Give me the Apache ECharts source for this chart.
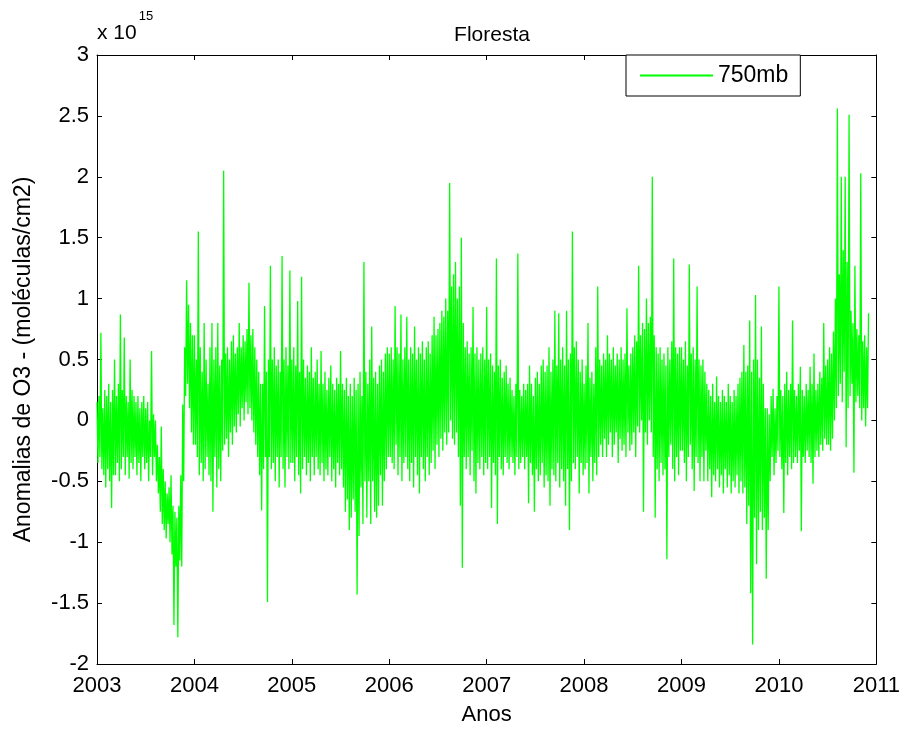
<!DOCTYPE html>
<html>
<head>
<meta charset="utf-8">
<title>Floresta</title>
<script src="https://cdn.jsdelivr.net/npm/echarts@6/dist/echarts.min.js"></script>
<style>
  html, body { margin: 0; padding: 0; background: #fff; }
  #chart { width: 903px; height: 731px; }
</style>
</head>
<body>
<div id="chart"></div>
<script>
// dados (unidade: 10^15 moléculas/cm2), uma amostra a cada 0.01 ano
const titulo = "Floresta";
const nomeSerie = "750mb";
const anos = [2003, 2004, 2005, 2006, 2007, 2008, 2009, 2010];
const passo = 0.01;
const xTicks = [2003, 2004, 2005, 2006, 2007, 2008, 2009, 2010, 2011];
const yTicks = [-2, -1.5, -1, -0.5, 0, 0.5, 1, 1.5, 2, 2.5, 3];

const o3_2003 = [0.15, -0.35, 0.2, -0.3, 0.72, -0.4, 0.1, -0.45, 0.25, -0.55,
  0.2, -0.4, 0.3, -0.5, 0.15, -0.72, 0.25, -0.45, 0.5, -0.45,
  0.2, -0.35, 0.3, -0.5, 0.87, -0.4, 0.25, -0.3, 0.68, -0.45,
  0.2, -0.3, 0.15, -0.48, 0.5, -0.35, 0.25, -0.4, 0.2, -0.3,
  0.15, -0.45, 0.2, -0.35, 0.1, -0.5, 0.15, -0.3, 0.2, -0.4,
  0.1, -0.35, 0.15, -0.5, 0.0, -0.3, 0.57, -0.45, 0.05, -0.3,
  0.0, -0.5, -0.2, -0.6, -0.3, -0.75, -0.05, -0.85, -0.4, -0.9,
  -0.5, -0.97, -0.6, -0.85, -0.55, -1.0, -0.45, -1.1, -0.7, -1.68,
  -0.75, -1.2, -0.8, -1.78, -0.7, -1.15, -0.45, -1.2, 0.13, -0.5,
  0.6, 0.2, 1.15, 0.3, 0.95, 0.1, 0.8, -0.1, 0.7, -0.2];
const o3_2004 = [0.7, -0.2, 0.5, -0.3, 1.55, -0.45, 0.6, -0.35, 0.4, -0.5,
  0.8, -0.4, 0.5, -0.3, 0.3, -0.45, 0.6, -0.5, 0.8, -0.75,
  0.5, -0.3, 0.6, -0.55, 0.8, -0.4, 0.45, -0.5, 0.5, -0.25,
  2.05, -0.2, 0.55, -0.15, 0.6, -0.3, 0.5, -0.1, 0.65, -0.2,
  0.7, -0.05, 0.55, -0.1, 0.6, 0.05, 0.8, -0.05, 0.6, 0.1,
  0.7, 0.0, 0.65, 0.15, 0.75, 0.05, 1.13, 0.1, 0.7, 0.0,
  0.75, -0.1, 0.6, -0.2, 0.5, -0.3, 0.4, -0.45, 0.3, -0.74,
  0.3, -0.4, 0.94, -0.3, 0.4, -1.49, 0.5, -0.3, 1.27, -0.4,
  0.5, -0.35, 0.6, -0.5, 0.45, -0.3, 0.5, -0.55, 0.4, -0.3,
  1.35, -0.4, 0.5, -0.55, 0.6, -0.3, 0.45, -0.4, 1.23, -0.35];
const o3_2005 = [0.5, -0.35, 0.6, -0.5, 0.45, -0.3, 0.98, -0.45, 0.4, -0.6,
  1.18, -0.4, 0.5, -0.3, 0.35, -0.45, 0.45, -0.35, 0.4, -0.5,
  0.6, -0.3, 0.35, -0.45, 0.4, -0.3, 0.5, -0.4, 0.3, -0.45,
  0.57, -0.35, 0.3, -0.5, 0.4, -0.4, 0.25, -0.45, 0.35, -0.3,
  0.45, -0.5, 0.3, -0.4, 0.25, -0.55, 0.35, -0.35, 0.3, -0.45,
  0.57, -0.4, 0.3, -0.55, 0.25, -0.75, 0.35, -0.65, 0.2, -0.9,
  0.3, -0.8, 0.2, -0.65, 0.35, -0.75, 0.25, -1.43, 0.3, -0.95,
  0.4, -0.55, 0.2, -0.85, 1.3, -0.5, 0.4, -0.8, 0.3, -0.5,
  0.5, -0.85, 0.77, -0.5, 0.35, -0.75, 0.4, -0.8, 0.3, -0.7,
  0.45, -0.45, 0.5, -0.7, 0.4, -0.5, 0.55, -0.4, 0.6, -0.3];
const o3_2006 = [0.55, -0.3, 0.6, -0.35, 0.5, -0.4, 0.94, -0.2, 0.6, -0.45,
  0.55, -0.3, 0.87, -0.5, 0.5, -0.35, 0.6, -0.3, 0.85, -0.4,
  0.5, -0.5, 0.6, -0.35, 0.55, -0.55, 0.77, -0.3, 0.5, -0.45,
  0.6, -0.6, 0.55, -0.3, 0.65, -0.4, 0.5, -0.5, 0.6, -0.3,
  0.65, -0.45, 0.55, -0.35, 0.7, -0.25, 0.85, -0.4, 0.7, -0.2,
  0.75, -0.3, 0.8, -0.15, 0.9, -0.25, 0.85, -0.1, 1.0, -0.2,
  0.9, -0.1, 1.95, 0.0, 1.1, -0.15, 1.2, -0.2, 1.3, -0.1,
  1.0, -0.3, 1.1, -0.7, 1.5, -1.21, 0.8, -0.3, 0.6, -0.4,
  0.65, -0.3, 0.55, -0.45, 0.6, -0.25, 0.93, -0.5, 0.55, -0.6,
  0.6, -0.35, 0.5, -0.4, 0.55, -0.3, 0.6, -0.45, 0.5, -0.35];
const o3_2007 = [0.93, -0.4, 0.5, -0.3, 0.55, -0.72, 0.45, -0.35, 0.4, -0.45,
  1.33, -0.85, 0.45, -0.3, 0.5, -0.4, 0.35, -0.45, 0.4, -0.3,
  0.45, -0.35, 0.3, -0.4, 0.35, -0.3, 0.25, -0.35, 0.2, -0.45,
  0.3, -0.3, 1.37, -0.4, 0.25, -0.35, 0.2, -0.3, 0.3, -0.4,
  0.25, -0.3, 0.3, -0.68, 0.45, -0.35, 0.3, -0.45, 0.2, -0.75,
  0.35, -0.4, 0.4, -0.5, 0.3, -0.45, 0.45, -0.35, 0.5, -0.55,
  0.4, -0.45, 0.45, -0.5, 0.6, -0.7, 0.4, -0.4, 0.5, -0.45,
  0.9, -0.5, 0.45, -0.35, 0.88, -0.55, 0.5, -0.4, 0.6, -0.5,
  0.45, -0.7, 0.9, -0.4, 0.5, -0.9, 0.55, -0.5, 1.55, -0.35,
  0.6, -0.4, 0.65, -0.3, 0.5, -0.6, 0.4, -0.35, 0.5, -0.45];
const o3_2008 = [0.3, -0.4, 0.45, -0.35, 0.8, -0.6, 0.35, -0.3, 0.4, -0.5,
  0.3, -0.35, 0.6, -0.45, 1.1, -0.3, 0.5, -0.2, 0.45, -0.3,
  0.55, -0.15, 0.5, -0.3, 0.7, -0.2, 0.55, -0.1, 0.5, -0.3,
  0.6, -0.2, 0.45, -0.1, 0.55, -0.35, 0.5, -0.15, 0.6, -0.25,
  0.5, -0.2, 0.55, -0.3, 0.92, -0.1, 0.45, -0.25, 0.55, -0.2,
  0.6, -0.1, 0.7, -0.3, 0.65, -0.05, 1.27, -0.1, 0.7, 0.0,
  0.8, -0.75, 0.75, -0.1, 1.0, -0.2, 0.8, 0.0, 0.85, -0.1,
  2.0, -0.3, 0.7, -0.8, 0.6, -0.4, 0.55, -0.5, 0.6, -0.35,
  0.5, -0.45, 0.55, -0.4, 0.45, -1.14, 0.6, -0.3, 0.5, -0.2,
  0.65, -0.4, 1.33, -0.5, 0.6, -0.3, 0.55, -0.45, 0.6, -0.25];
const o3_2009 = [0.6, -0.25, 0.5, -0.35, 0.65, -0.5, 0.45, -0.3, 1.28, -0.2,
  0.55, -0.4, 0.6, -0.58, 0.5, -0.3, 1.1, -0.35, 0.5, -0.5,
  0.45, -0.3, 0.5, -0.5, 0.4, -0.25, 0.3, -0.5, 0.25, -0.4,
  0.2, -0.63, 0.3, -0.45, 0.15, -0.5, 0.36, -0.4, 0.2, -0.55,
  0.15, -0.45, 0.25, -0.6, 0.2, -0.4, 0.15, -0.55, 0.3, -0.45,
  0.2, -0.6, 0.15, -0.5, 0.25, -0.55, 0.2, -0.45, 0.3, -0.6,
  0.35, -0.5, 0.4, -0.6, 0.62, -0.55, 0.4, -0.85, 0.45, -0.7,
  0.82, -1.42, 0.4, -1.84, 0.5, -0.8, 1.03, -1.18, 0.5, -0.9,
  0.35, -0.75, 0.77, -0.9, 0.3, -0.8, 0.1, -1.3, 0.1, -0.9,
  0.05, -0.5, 0.2, -0.3, 0.26, -0.45, 0.1, -0.35, 0.2, -0.25];
const o3_2010 = [1.1, -0.3, 0.25, -0.4, 0.2, -0.76, 0.3, -0.35, 0.4, -0.45,
  0.25, -0.3, 0.3, -0.4, 0.82, -0.35, 0.25, -0.3, 0.2, -0.35,
  0.3, -0.25, 0.44, -0.91, 0.25, -0.3, 0.2, -0.35, 0.3, -0.25,
  0.25, -0.3, 0.44, -0.35, 0.3, -0.52, 0.55, -0.3, 0.25, -0.25,
  0.3, -0.3, 0.4, -0.2, 0.35, -0.25, 0.8, -0.15, 0.45, -0.2,
  0.5, -0.2, 0.6, -0.25, 0.55, -0.15, 0.73, 0.0, 1.0, 0.1,
  2.56, 0.2, 1.2, 0.3, 2.0, 0.15, 1.4, 0.4, 2.0, -0.22,
  1.3, 0.1, 2.51, 0.2, 0.9, 0.3, 0.8, -0.43, 1.27, 0.15,
  0.75, 0.2, 0.7, 0.1, 2.03, 0.0, 0.65, 0.1, 0.7, -0.05,
  0.6, 0.1, 0.88];

const porAno = [o3_2003, o3_2004, o3_2005, o3_2006, o3_2007, o3_2008, o3_2009, o3_2010];

const FONTE = "'Liberation Sans', Arial, sans-serif";

// monta pares [ano, valor]
const dados = [];
anos.forEach((ano, k) => {
  porAno[k].forEach((v, i) => {
    dados.push([+(ano + i * passo).toFixed(2), v]);
  });
});

const myChart = echarts.init(document.getElementById("chart"), null, { renderer: "canvas" });

const eixoBase = {
  type: "value",
  axisLine: { show: true, onZero: false, lineStyle: { color: "#000", width: 1 } },
  axisTick: { show: true, inside: true, length: 5, lineStyle: { color: "#000" } },
  splitLine: { show: false },
};

let option = {
  animation: false,
  backgroundColor: "#fff",
  title: {
    text: titulo,
    left: 487,
    top: 20,
    textAlign: "center",
    textStyle: { fontFamily: FONTE, fontSize: 21, fontWeight: "normal", color: "#000" },
  },
  legend: {
    data: [{ name: nomeSerie, icon: "rect" }],
    left: 626,
    top: 55,
    itemWidth: 73,
    itemHeight: 2,
    padding: [9, 12, 9, 14],
    borderColor: "#000",
    borderWidth: 1,
    backgroundColor: "#fff",
    textStyle: { fontFamily: FONTE, fontSize: 23, color: "#000" },
  },
  grid: { left: 97, right: 25, top: 55, bottom: 65, containLabel: false },
  xAxis: [
    Object.assign({}, eixoBase, {
      position: "bottom",
      min: xTicks[0],
      max: xTicks[xTicks.length - 1],
      interval: 1,
      name: "Anos",
      nameLocation: "middle",
      nameGap: 40,
      nameTextStyle: { fontFamily: FONTE, fontSize: 22, color: "#000" },
      axisLabel: { fontFamily: FONTE, fontSize: 22, color: "#000", margin: 11, formatter: (v) => String(v) },
    }),
    Object.assign({}, eixoBase, {
      position: "top",
      min: xTicks[0],
      max: xTicks[xTicks.length - 1],
      interval: 1,
      axisLabel: { show: false },
    }),
  ],
  yAxis: [
    Object.assign({}, eixoBase, {
      position: "left",
      min: yTicks[0],
      max: yTicks[yTicks.length - 1],
      interval: 0.5,
      name: "Anomalias de O3 - (moléculas/cm2)",
      nameLocation: "middle",
      nameGap: 62,
      nameTextStyle: { fontFamily: FONTE, fontSize: 23, color: "#000" },
      axisLabel: { fontFamily: FONTE, fontSize: 22, color: "#000", margin: 8, formatter: (v) => String(v) },
    }),
    Object.assign({}, eixoBase, {
      position: "right",
      min: yTicks[0],
      max: yTicks[yTicks.length - 1],
      interval: 0.5,
      axisLabel: { show: false },
    }),
  ],
  graphic: [
    {
      type: "text",
      left: 97,
      top: 10,
      style: {
        text: "{a|x 10}{b|15}",
        rich: {
          a: { fontFamily: FONTE, fontSize: 21, color: "#000", lineHeight: 34, verticalAlign: "bottom" },
          b: { fontFamily: FONTE, fontSize: 13, color: "#000", lineHeight: 34, verticalAlign: "top", padding: [0, 0, 0, 2] },
        },
      },
    },
  ],
  series: [
    {
      name: nomeSerie,
      type: "line",
      xAxisIndex: 0,
      yAxisIndex: 0,
      data: dados,
      showSymbol: false,
      symbol: "none",
      sampling: null,
      itemStyle: { color: "#00ff00" },
      lineStyle: { color: "#00ff00", width: 1.3 },
    },
  ],
};

myChart.setOption(option);
window.onresize = () => {
  myChart.resize();
};
</script>
</body>
</html>
